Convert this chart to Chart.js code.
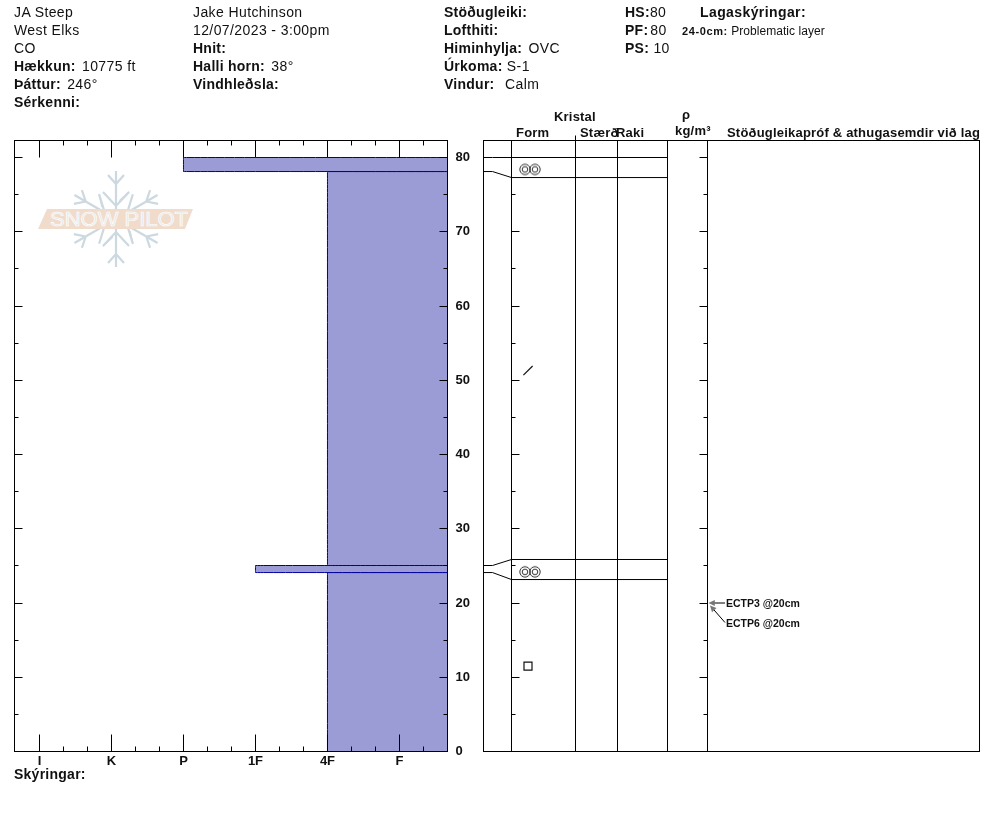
<!DOCTYPE html>
<html><head><meta charset="utf-8">
<script src="https://cdn.jsdelivr.net/npm/chart.js@4"></script>
<style>
html,body{margin:0;padding:0;background:#fff}
body{width:994px;height:840px;position:relative;overflow:hidden;font-family:"Liberation Sans",Arial,sans-serif;color:#111}
canvas{position:absolute;top:0}
.t{position:absolute;white-space:nowrap;font-size:14px;line-height:16px;letter-spacing:.4px}
.t b{font-weight:bold;letter-spacing:.25px;margin-right:2px}
.h{font-size:13px;font-weight:bold;letter-spacing:.2px}
svg{position:absolute;left:0;top:0}
</style></head><body>
<svg width="994" height="840" viewBox="0 0 994 840">
  <defs><g id="arm" stroke="#ccd9e0" stroke-width="2.2" fill="none">
    <path d="M0-8V-48M-8-44L0-35L8-44M-13-27L0-13L13-27"/>
    <path d="M-17-25L-14-12" stroke-width="1.4"/>
  </g></defs>
  <g transform="translate(116 219)">
    <use href="#arm"/><use href="#arm" transform="rotate(60)"/><use href="#arm" transform="rotate(120)"/>
    <use href="#arm" transform="rotate(180)"/><use href="#arm" transform="rotate(240)"/><use href="#arm" transform="rotate(300)"/>
  </g>
  <path d="M47 209H193L185 229H38Z" fill="#f1dccc"/>
  <text x="50" y="226" font-family="Liberation Sans" font-size="20" textLength="138" lengthAdjust="spacingAndGlyphs" fill="#e6e8e8" stroke="#fff" stroke-width=".6">SNOW PILOT</text>
</svg>
<canvas id="hardness" width="480" height="800" style="left:0;width:480px;height:800px"></canvas>
<canvas id="crystal" width="514" height="800" style="left:480px;width:514px;height:800px"></canvas>

<div class="t" style="left:14px;top:4px">JA Steep</div>
<div class="t" style="left:14px;top:22px">West Elks</div>
<div class="t" style="left:14px;top:40px">CO</div>
<div class="t" style="left:14px;top:58px"><b>Hækkun:</b> 10775 ft</div>
<div class="t" style="left:14px;top:76px"><b>Þáttur:</b> 246°</div>
<div class="t" style="left:14px;top:94px"><b>Sérkenni:</b></div>
<div class="t" style="left:193px;top:4px">Jake Hutchinson</div>
<div class="t" style="left:193px;top:22px">12/07/2023 - 3:00pm</div>
<div class="t" style="left:193px;top:40px"><b>Hnit:</b></div>
<div class="t" style="left:193px;top:58px"><b>Halli horn:</b> 38°</div>
<div class="t" style="left:193px;top:76px"><b>Vindhleðsla:</b></div>
<div class="t" style="left:444px;top:4px"><b>Stöðugleiki:</b></div>
<div class="t" style="left:444px;top:22px"><b>Lofthiti:</b></div>
<div class="t" style="left:444px;top:40px"><b>Himinhylja:</b> OVC</div>
<div class="t" style="left:444px;top:58px"><b style="margin-right:0">Úrkoma:</b> S-1</div>
<div class="t" style="left:444px;top:76px"><b>Vindur:</b>&nbsp; Calm</div>
<div class="t" style="left:625px;top:4px"><b style="margin-right:0">HS:</b>80</div>
<div class="t" style="left:625px;top:22px"><b style="margin-right:2px">PF:</b>80</div>
<div class="t" style="left:625px;top:40px"><b style="margin-right:0">PS:</b> 10</div>
<div class="t" style="left:700px;top:4px"><b style="letter-spacing:.4px">Lagaskýringar:</b></div>
<div class="t" style="left:682px;top:23px;font-size:12px;letter-spacing:.05px"><b style="font-size:11px;letter-spacing:.6px;margin-right:0">24-0cm:</b> Problematic layer</div>
<div class="t h" style="left:554px;top:109px">Kristal</div>
<div class="t h" style="left:516px;top:125px">Form</div>
<div class="t h" style="left:580px;top:125px">Stærð</div>
<div class="t h" style="left:616px;top:125px">Raki</div>
<div class="t h" style="left:682px;top:107px">ρ</div>
<div class="t h" style="left:675px;top:123px">kg/m³</div>
<div class="t h" style="left:727px;top:125px">Stöðugleikapróf &amp; athugasemdir við lag</div>
<div class="t" style="left:14px;top:766px"><b>Skýringar:</b></div>

<script>
const hardnessLabels = ['I','K','P','1F','4F','F'];
const hardnessTicks = [0,1,2,3,4,5];
const depthTicks = [0,10,20,30,40,50,60,70,80];
const layerTop = [80,78.11,25.05,24.1];
const layerBottom = [78.11,25.05,24.1,0];
const layerHardness = [2,4,3,4];
const connectorLeft = [80,78.11,25.05,24.1];
const connectorRight = [80,77.3,25.86,23.16];
const columnEdges = [28,92,134,184,224];
const formDepths = [78.4,51.3,24.2,11.5];
const formColumns = [46.5,44.5,46.5,44.5];
const formSymbols = ['rounds','slash','rounds','square'];
const testLabels = ['ECTP3 @20cm','ECTP6 @20cm'];
const testDepths = [20,20];

const HARD_MIN=-0.347, HARD_MAX=5.667, DEPTH_MAX=82.29, PANEL_MAX=496;
const px=v=>Math.floor(v)+.5;
function seg(c,x1,y1,x2,y2){c.beginPath();c.moveTo(x1,y1);c.lineTo(x2,y2);c.stroke();}
function yTicks(c,scale,x,dir){
  for(let d=0;d<=80;d+=5){
    const y=px(scale.getPixelForValue(d));
    seg(c,x,y,x+dir*(d%10===0?8:4),y);
  }
}

const roundsIcon=(()=>{
  const cv=document.createElement('canvas');cv.width=24;cv.height=14;
  const c=cv.getContext('2d');c.strokeStyle='#333';c.lineWidth=1;
  for(const cx of [7,17]){for(const r of [5.2,2.8]){c.beginPath();c.arc(cx,7,r,0,Math.PI*2);c.stroke();}}
  return cv;
})();

const hardnessFrame={id:'hardnessFrame',afterDatasetsDraw(ch){
  const c=ch.ctx,{left,right,top,bottom}=ch.chartArea,x=ch.scales.x,y=ch.scales.y;
  c.save();c.strokeStyle='#000';c.lineWidth=1;
  yTicks(c,y,left,1);yTicks(c,y,right,-1);
  for(let i=0;i<=16;i++){
    const v=i/3,xp=px(x.getPixelForValue(v)),len=i%3===0?17:5;
    seg(c,xp,top,xp,top+len);seg(c,xp,bottom,xp,bottom-len);
  }
  c.strokeRect(left,top,right-left,bottom-top);
  c.restore();
}};

const crystalFrame={id:'crystalFrame',afterDatasetsDraw(ch){
  const c=ch.ctx,{left,right,top,bottom}=ch.chartArea,x=ch.scales.x,y=ch.scales.y;
  c.save();c.strokeStyle='#000';c.lineWidth=1;
  c.strokeRect(left,top,right-left,bottom-top);
  columnEdges.forEach(e=>{const xp=x.getPixelForValue(e);seg(c,xp,top,xp,bottom);});
  const tall=x.getPixelForValue(columnEdges[1]);seg(c,tall,top-5,tall,top);
  yTicks(c,y,x.getPixelForValue(columnEdges[0]),1);
  yTicks(c,y,x.getPixelForValue(columnEdges[4]),-1);
  const labelX=x.getPixelForValue(columnEdges[4])+18.5,tipX=x.getPixelForValue(columnEdges[4])+1;
  c.font='bold 10.5px "Liberation Sans"';c.fillStyle='#111';c.textBaseline='middle';c.textAlign='left';
  testLabels.forEach((t,i)=>{
    const yp=y.getPixelForValue(testDepths[i]);
    const ly=yp+i*20;
    c.fillText(t,labelX,ly+1);
    const tx=tipX+i*1.5,ty=yp+i*2.5;
    const a=Math.atan2(ly-ty,labelX-tx);
    c.strokeStyle='#000';seg(c,labelX-1,ly-(i?0.5:0),tx+4*Math.cos(a),ty+4*Math.sin(a));
    c.fillStyle='#777';c.beginPath();c.moveTo(tx,ty);
    c.lineTo(tx+7*Math.cos(a-.45),ty+7*Math.sin(a-.45));
    c.lineTo(tx+7*Math.cos(a+.45),ty+7*Math.sin(a+.45));c.closePath();c.fill();
    c.fillStyle='#111';
  });
  c.restore();
}};

const lineBase={type:'line',borderColor:'#000',borderWidth:1,pointRadius:0,tension:0,fill:false,clip:false};

new Chart(document.getElementById('hardness'),{
  type:'line',
  data:{datasets:layerHardness.map((h,i)=>({
    ...lineBase,
    label:'Layer '+(i+1),
    tension:1e-6,capBezierPoints:false,
    data:[{x:h,y:layerTop[i]},{x:HARD_MAX,y:layerTop[i]},{x:HARD_MAX,y:layerBottom[i]},{x:h,y:layerBottom[i]},{x:h,y:layerTop[i]}],
    borderColor:'#0000a0',backgroundColor:'rgb(155,155,213)',fill:'shape'
  }))},
  options:{
    responsive:false,animation:false,devicePixelRatio:1,
    layout:{autoPadding:false,padding:{left:14.5,top:140.5,right:0,bottom:0}},
    plugins:{legend:{display:false},tooltip:{enabled:false}},
    scales:{
      x:{type:'linear',min:HARD_MIN,max:HARD_MAX,position:'bottom',
        grid:{display:false,drawTicks:false},border:{display:false},
        afterBuildTicks:s=>{s.ticks=hardnessTicks.map(v=>({value:v}));},
        afterFit:s=>{s.height=48.5;},
        ticks:{autoSkip:false,maxRotation:0,padding:2,color:'#111',font:{family:'Liberation Sans',size:13,weight:'bold'},
          callback:v=>hardnessLabels[v]}},
      y:{type:'linear',min:0,max:DEPTH_MAX,position:'right',
        grid:{display:false,drawTicks:false},border:{display:false},
        afterBuildTicks:s=>{s.ticks=depthTicks.map(v=>({value:v}));},
        afterFit:s=>{s.width=32.5;},
        ticks:{autoSkip:false,padding:8,color:'#111',font:{family:'Liberation Sans',size:13,weight:'bold'}}}
    }
  },
  plugins:[hardnessFrame]
});

const connectorSets=connectorLeft.map((a,i)=>({...lineBase,label:'Connector '+(i+1),
  data:[{x:0,y:a},{x:9,y:a},{x:columnEdges[0],y:connectorRight[i]},{x:columnEdges[3],y:connectorRight[i]}]}));

new Chart(document.getElementById('crystal'),{
  type:'line',
  data:{datasets:[...connectorSets,{
    type:'scatter',label:'Grain form',
    data:formDepths.map((d,i)=>({x:formColumns[i],y:d})),
    showLine:false,borderColor:'#111',borderWidth:1.2,backgroundColor:'transparent',
    pointStyle:formSymbols.map(s=>s==='rounds'?roundsIcon:s==='slash'?'line':'rect'),
    rotation:formSymbols.map(s=>s==='slash'?-45:0),
    pointRadius:formSymbols.map(s=>s==='slash'?6.5:s==='square'?5.66:7)
  }]},
  options:{
    responsive:false,animation:false,devicePixelRatio:1,
    layout:{autoPadding:false,padding:{left:3.5,top:140.5,right:14.5,bottom:48.5}},
    plugins:{legend:{display:false},tooltip:{enabled:false}},
    scales:{
      x:{type:'linear',min:0,max:PANEL_MAX,display:false},
      y:{type:'linear',min:0,max:DEPTH_MAX,display:false}
    }
  },
  plugins:[crystalFrame]
});
</script>
</body></html>
